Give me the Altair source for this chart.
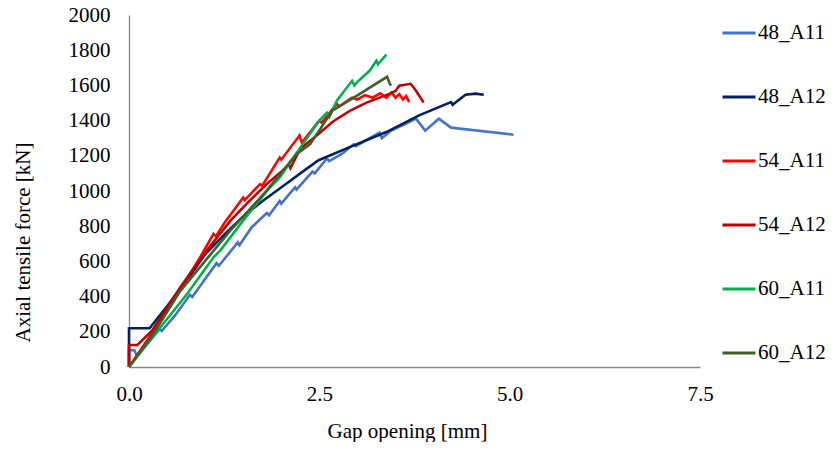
import altair as alt
import pandas as pd

series_names = ["48_A11", "48_A12", "54_A11", "54_A12", "60_A11", "60_A12"]
series_colors = ["#4472C4", "#002060", "#FF0000", "#C00000", "#00B050", "#3F5F2B"]

# Gap opening [mm] and axial tensile force [kN]
x_48_A11 = [0, 0, 0.07, 0.10, 0.2, 0.4, 0.43, 0.6, 0.8, 0.83, 1.0, 1.15, 1.18, 1.43, 1.45, 1.61, 1.81, 1.84,
            1.98, 2.0, 2.18, 2.2, 2.41, 2.44, 2.6, 2.63, 2.8, 2.95, 2.98, 3.29, 3.32, 3.45, 3.6, 3.77, 3.89,
            4.07, 4.23, 5.05]
y_48_A11 = [0, 95, 95, 65, 110, 215, 205, 290, 410, 398, 500, 590, 575, 708, 692, 793, 875, 862,
            944, 928, 1021, 1008, 1110, 1100, 1185, 1170, 1212, 1265, 1255, 1332, 1300, 1345, 1375, 1411, 1343,
            1411, 1360, 1320]

x_48_A12 = [0, 0, 0.27, 0.5, 0.82, 1.0, 1.28, 1.5, 1.76, 2.11, 2.25, 2.49, 2.93, 3.38, 3.81, 4.23, 4.25,
            4.42, 4.55, 4.66]
y_48_A12 = [0, 220, 220, 345, 530, 640, 765, 855, 945, 1055, 1100, 1175, 1255, 1335, 1430, 1505, 1490,
            1547, 1553, 1547]

x_54_A11 = [0, 0.3, 0.6, 0.93, 1.11, 1.14, 1.26, 1.5, 1.52, 1.72, 1.75, 1.98, 2.0, 2.24, 2.27, 2.5, 2.53,
            2.73, 2.76, 2.93, 3.0, 3.1, 3.2, 3.3, 3.38, 3.45, 3.5, 3.55, 3.6, 3.64, 3.68]
y_54_A11 = [0, 190, 390, 620, 756, 742, 822, 963, 948, 1039, 1030, 1190, 1178, 1315, 1275, 1400, 1388,
            1496, 1480, 1530, 1520, 1545, 1530, 1555, 1530, 1560, 1530, 1550, 1520, 1540, 1505]

x_54_A12 = [0, 0, 0.11, 0.3, 0.67, 1.0, 1.33, 1.55, 1.81, 2.0, 2.1, 2.12, 2.25, 2.45, 2.68, 2.9, 3.12,
            3.42, 3.5, 3.55, 3.7, 3.77, 3.87]
y_54_A12 = [0, 125, 125, 205, 450, 650, 830, 930, 1040, 1110, 1150, 1130, 1240, 1310, 1395, 1455, 1502,
            1552, 1568, 1598, 1609, 1570, 1502]

x_60_A11 = [0, 0.3, 0.77, 1.11, 1.2, 1.55, 1.85, 1.98, 2.22, 2.5, 2.6, 2.63, 2.73, 2.93, 2.96, 3.0, 3.16,
            3.25, 3.27, 3.38]
y_60_A11 = [0, 165, 419, 623, 663, 860, 1020, 1077, 1228, 1400, 1445, 1420, 1513, 1626, 1600, 1620, 1683,
            1740, 1720, 1775]

x_60_A12 = [0, 0.3, 0.67, 1.33, 1.77, 2.2, 2.38, 2.67, 2.99, 3.39, 3.42, 3.44]
y_60_A12 = [0, 175, 430, 775, 983, 1209, 1266, 1456, 1541, 1649, 1615, 1598]

y_ticks = list(range(0, 2001, 200))
x_ticks = [0, 2.5, 5.0, 7.5]

xs = [x_48_A11, x_48_A12, x_54_A11, x_54_A12, x_60_A11, x_60_A12]
ys = [y_48_A11, y_48_A12, y_54_A11, y_54_A12, y_60_A11, y_60_A12]
rows = []
for name, xv, yv in zip(series_names, xs, ys):
    for i, (a, b) in enumerate(zip(xv, yv)):
        rows.append({"series": name, "gap": a, "force": b, "i": i})
df = pd.DataFrame(rows)

FONT = "Liberation Serif"

chart = alt.Chart(df).mark_line(strokeWidth=2.6).encode(
    x=alt.X("gap:Q", scale=alt.Scale(domain=[0, 7.5], nice=False),
            axis=alt.Axis(values=x_ticks, format=".1f", title="Gap opening [mm]", grid=False, ticks=False,
                          labelFlush=False, labelPadding=16, titleX=278, titleY=70.5,
                          titleBaseline="alphabetic", titleAlign="center")),
    y=alt.Y("force:Q", scale=alt.Scale(domain=[0, 2000], nice=False),
            axis=alt.Axis(values=y_ticks, format="d", title="Axial tensile force [kN]", grid=False,
                          ticks=False, labelFlush=False, labelPadding=19, titleX=-106, titleY=227,
                          titleBaseline="middle", titleAlign="center", titleAngle=-90)),
    color=alt.Color("series:N", scale=alt.Scale(domain=series_names, range=series_colors),
                    legend=alt.Legend(title=None, orient="none", legendX=592, legendY=0,
                                      symbolType="stroke", symbolSize=1089, symbolStrokeWidth=3,
                                      rowPadding=36, labelOffset=1, padding=0)),
    order="i:Q",
).properties(
    width=571, height=352,
    autosize=alt.AutoSizeParams(type="none"),
    padding={"left": 121, "top": 7, "right": 127, "bottom": 75},
).configure_view(stroke=None).configure_axis(
    labelFont=FONT, titleFont=FONT, labelFontSize=21, titleFontSize=21, labelColor="black",
    titleColor="black", titleFontWeight="normal", domainColor="#868686", domainWidth=1.3,
).configure_legend(labelFont=FONT, labelFontSize=21, labelColor="black")

chart.save("out.html", embed_options={"renderer": "svg", "actions": False})
